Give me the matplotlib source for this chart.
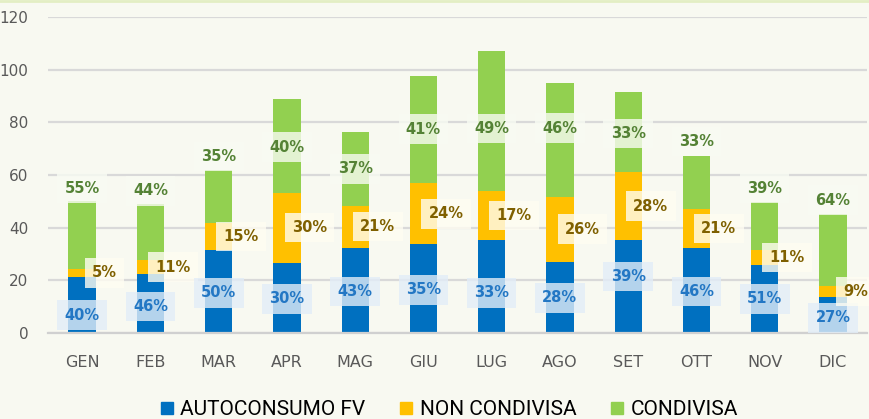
import numpy as np
import matplotlib
matplotlib.use('Agg')
import matplotlib.pyplot as plt
from matplotlib.lines import Line2D

# months and stacked values
mesi = ['GEN', 'FEB', 'MAR', 'APR', 'MAG', 'GIU', 'LUG', 'AGO', 'SET', 'OTT', 'NOV', 'DIC']
autoconsumo = [21.4, 22.4, 31.5, 26.7, 32.4, 33.7, 35.3, 27.1, 35.3, 32.4, 25.9, 13.7]
non_condivisa = [2.9, 5.3, 10.2, 26.6, 16.0, 23.1, 18.6, 24.6, 25.7, 14.7, 5.6, 4.2]
condivisa = [25.8, 21.3, 20.2, 35.4, 27.9, 40.7, 53.2, 43.3, 30.4, 20.2, 18.4, 27.4]

# percentage labels
perc_auto = ['40%', '46%', '50%', '30%', '43%', '35%', '33%', '28%', '39%', '46%', '51%', '27%']
perc_non = ['5%', '11%', '15%', '30%', '21%', '24%', '17%', '26%', '28%', '21%', '11%', '9%']
perc_cond = ['55%', '44%', '35%', '40%', '37%', '41%', '49%', '46%', '33%', '33%', '39%', '64%']

# label nudges (data units) - the original labels were dragged around by hand
nudge_auto = [-3.9, -1.2, -0.5, -0.4, -0.5, -0.5, -2.4, -0.2, 3.8, -0.5, 0.0, -1.1]
nudge_cond = [17.8, 15.6, 15.2, -0.4, 0.0, 0.3, -2.8, 4.4, -0.4, 15.5, 14.3, 18.9]

BLU = '#0070C0'
ARANCIO = '#FFC000'
VERDE = '#92D050'
SFONDO = '#F8F9F1'

fig = plt.figure(figsize=(8.7, 4.19), dpi=100, facecolor=SFONDO)
ax = fig.add_axes([0.0552, 0.2053, 0.9414, 0.7541], facecolor=SFONDO)

x = np.arange(len(mesi))
a = np.array(autoconsumo)
n = np.array(non_condivisa)
c = np.array(condivisa)
w = 0.4

ax.bar(x, a, w, color=BLU, zorder=2)
ax.bar(x, n, w, bottom=a, color=ARANCIO, zorder=2)
ax.bar(x, c, w, bottom=a + n, color=VERDE, zorder=2)

ax.set_xlim(-0.5, len(mesi) - 0.5)
ax.set_ylim(0, 120)
ax.set_yticks(np.arange(0, 121, 20))
ax.yaxis.grid(True, color='#D9D9D9', linewidth=1.6, zorder=0)
ax.set_axisbelow(True)
for s in ['top', 'right', 'left']:
    ax.spines[s].set_visible(False)
ax.spines['bottom'].set_color('#D0D0D0')
ax.spines['bottom'].set_linewidth(1.6)
ax.tick_params(length=0, labelsize=11, labelcolor='#595959')
ax.tick_params(axis='y', pad=14)
ax.tick_params(axis='x', pad=16)
ax.set_xticks(x)
ax.set_xticklabels(mesi, fontsize=11.5)

def box(bg):
    return dict(boxstyle='square,pad=0.5', facecolor=bg, edgecolor='none', alpha=0.8)

for i in range(len(mesi)):
    ax.text(x[i], a[i] / 2 + nudge_auto[i], perc_auto[i], ha='center', va='center',
            fontsize=10.5, fontweight='bold', color='#2377C4', bbox=box('#E2EDF8'), zorder=3)
    ax.text(x[i] + 0.33, a[i] + n[i] / 2, perc_non[i], ha='center', va='center',
            fontsize=10.5, fontweight='bold', color='#7F6000', bbox=box('#FFFDF2'), zorder=3)
    ax.text(x[i], a[i] + n[i] + c[i] / 2 + nudge_cond[i], perc_cond[i], ha='center', va='center',
            fontsize=10.5, fontweight='bold', color='#548235', bbox=box('#F8FBF3'), zorder=3)

handles = [Line2D([], [], marker='s', linestyle='none', markersize=9, color=col)
           for col in (BLU, ARANCIO, VERDE)]
fig.legend(handles, ['AUTOCONSUMO FV', 'NON CONDIVISA', 'CONDIVISA'], loc='lower center',
           bbox_to_anchor=(0.515, -0.045), ncol=3, frameon=False,
           prop={'family': 'Roboto', 'size': 15},
           handletextpad=0.25, columnspacing=1.55, handlelength=0.8)

# thin green border line at the top
fig.add_artist(Line2D([0, 1], [0.998, 0.998], color='#E3EEC4', linewidth=2, transform=fig.transFigure))

fig.savefig('out.png', dpi=100, facecolor=SFONDO)
